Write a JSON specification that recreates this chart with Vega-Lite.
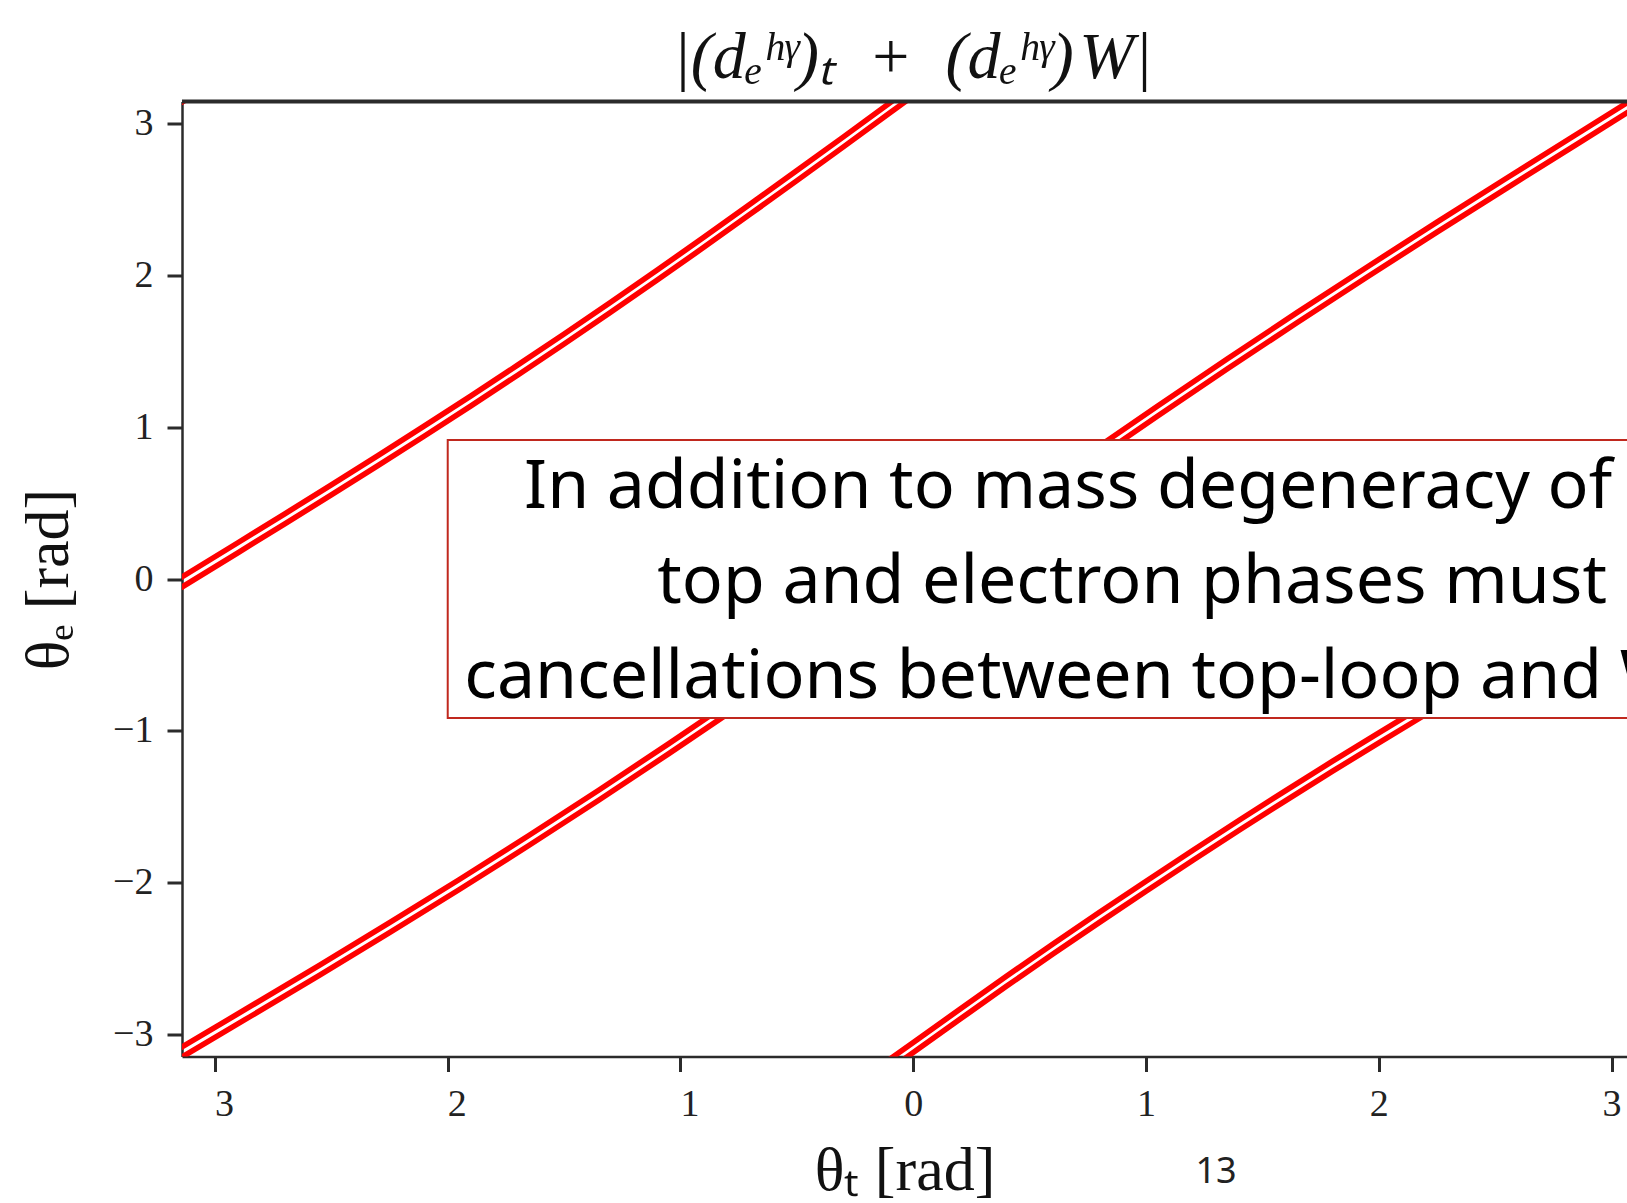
{
  "$schema": "https://vega.github.io/schema/vega-lite/v6.json",
  "autosize": {"type": "none"},
  "padding": {"left": 182, "top": 101.5, "right": 0, "bottom": 146.5},
  "width": 1445,
  "height": 955,
  "background": "white",
  "view": {"stroke": null},
  "title": {
    "text": "|(dₑʰᵞ)ₜ\u2002+\u2002(dₑʰᵞ)\u200aW|",
    "font": "Liberation Serif",
    "fontSize": 66,
    "fontStyle": "italic",
    "fontWeight": "normal",
    "color": "#111111",
    "anchor": "middle",
    "offset": 8,
    "dx": 8
  },
  "config": {
    "axis": {
      "grid": false,
      "domainColor": "#2b2b2b",
      "domainWidth": 2.5,
      "tickColor": "#2b2b2b",
      "tickWidth": 3,
      "tickSize": 15,
      "labelFont": "Liberation Serif",
      "labelFontSize": 38,
      "labelColor": "#222222",
      "titleFont": "Liberation Serif",
      "titleFontSize": 62,
      "titleFontWeight": "normal",
      "titleColor": "#111111"
    }
  },
  "datasets": {
    "contours": [
      {"series": "A_up", "theta_t": -3.3, "theta_e": -0.136},
      {"series": "A_up", "theta_t": -3.1416, "theta_e": 0.013},
      {"series": "A_up", "theta_t": -2.9, "theta_e": 0.240},
      {"series": "A_up", "theta_t": -2.7, "theta_e": 0.429},
      {"series": "A_up", "theta_t": -2.5, "theta_e": 0.619},
      {"series": "A_up", "theta_t": -2.3, "theta_e": 0.812},
      {"series": "A_up", "theta_t": -2.1, "theta_e": 1.007},
      {"series": "A_up", "theta_t": -1.9, "theta_e": 1.205},
      {"series": "A_up", "theta_t": -1.7, "theta_e": 1.407},
      {"series": "A_up", "theta_t": -1.5, "theta_e": 1.612},
      {"series": "A_up", "theta_t": -1.3, "theta_e": 1.821},
      {"series": "A_up", "theta_t": -1.1, "theta_e": 2.033},
      {"series": "A_up", "theta_t": -0.9, "theta_e": 2.248},
      {"series": "A_up", "theta_t": -0.7, "theta_e": 2.467},
      {"series": "A_up", "theta_t": -0.5, "theta_e": 2.687},
      {"series": "A_up", "theta_t": -0.3, "theta_e": 2.909},
      {"series": "A_up", "theta_t": -0.1, "theta_e": 3.133},
      {"series": "A_up", "theta_t": 0.05, "theta_e": 3.301},
      {"series": "A_lo", "theta_t": -3.3, "theta_e": -0.202},
      {"series": "A_lo", "theta_t": -3.1416, "theta_e": -0.053},
      {"series": "A_lo", "theta_t": -2.9, "theta_e": 0.174},
      {"series": "A_lo", "theta_t": -2.7, "theta_e": 0.363},
      {"series": "A_lo", "theta_t": -2.5, "theta_e": 0.553},
      {"series": "A_lo", "theta_t": -2.3, "theta_e": 0.746},
      {"series": "A_lo", "theta_t": -2.1, "theta_e": 0.941},
      {"series": "A_lo", "theta_t": -1.9, "theta_e": 1.139},
      {"series": "A_lo", "theta_t": -1.7, "theta_e": 1.341},
      {"series": "A_lo", "theta_t": -1.5, "theta_e": 1.546},
      {"series": "A_lo", "theta_t": -1.3, "theta_e": 1.755},
      {"series": "A_lo", "theta_t": -1.1, "theta_e": 1.967},
      {"series": "A_lo", "theta_t": -0.9, "theta_e": 2.182},
      {"series": "A_lo", "theta_t": -0.7, "theta_e": 2.401},
      {"series": "A_lo", "theta_t": -0.5, "theta_e": 2.621},
      {"series": "A_lo", "theta_t": -0.3, "theta_e": 2.843},
      {"series": "A_lo", "theta_t": -0.1, "theta_e": 3.067},
      {"series": "A_lo", "theta_t": 0.05, "theta_e": 3.235},
      {"series": "B_up", "theta_t": -3.3, "theta_e": -3.226},
      {"series": "B_up", "theta_t": -3.1416, "theta_e": -3.079},
      {"series": "B_up", "theta_t": -2.85, "theta_e": -2.814},
      {"series": "B_up", "theta_t": -2.55, "theta_e": -2.540},
      {"series": "B_up", "theta_t": -2.25, "theta_e": -2.261},
      {"series": "B_up", "theta_t": -1.95, "theta_e": -1.977},
      {"series": "B_up", "theta_t": -1.65, "theta_e": -1.686},
      {"series": "B_up", "theta_t": -1.35, "theta_e": -1.388},
      {"series": "B_up", "theta_t": -1.05, "theta_e": -1.083},
      {"series": "B_up", "theta_t": -0.75, "theta_e": -0.772},
      {"series": "B_up", "theta_t": -0.45, "theta_e": -0.457},
      {"series": "B_up", "theta_t": -0.15, "theta_e": -0.137},
      {"series": "B_up", "theta_t": 0.15, "theta_e": 0.184},
      {"series": "B_up", "theta_t": 0.45, "theta_e": 0.504},
      {"series": "B_up", "theta_t": 0.75, "theta_e": 0.823},
      {"series": "B_up", "theta_t": 1.05, "theta_e": 1.138},
      {"series": "B_up", "theta_t": 1.35, "theta_e": 1.449},
      {"series": "B_up", "theta_t": 1.65, "theta_e": 1.754},
      {"series": "B_up", "theta_t": 1.95, "theta_e": 2.053},
      {"series": "B_up", "theta_t": 2.25, "theta_e": 2.348},
      {"series": "B_up", "theta_t": 2.55, "theta_e": 2.638},
      {"series": "B_up", "theta_t": 2.85, "theta_e": 2.926},
      {"series": "B_up", "theta_t": 3.1416, "theta_e": 3.205},
      {"series": "B_up", "theta_t": 3.3, "theta_e": 3.356},
      {"series": "B_lo", "theta_t": -3.3, "theta_e": -3.292},
      {"series": "B_lo", "theta_t": -3.1416, "theta_e": -3.145},
      {"series": "B_lo", "theta_t": -2.85, "theta_e": -2.880},
      {"series": "B_lo", "theta_t": -2.55, "theta_e": -2.606},
      {"series": "B_lo", "theta_t": -2.25, "theta_e": -2.327},
      {"series": "B_lo", "theta_t": -1.95, "theta_e": -2.043},
      {"series": "B_lo", "theta_t": -1.65, "theta_e": -1.752},
      {"series": "B_lo", "theta_t": -1.35, "theta_e": -1.454},
      {"series": "B_lo", "theta_t": -1.05, "theta_e": -1.149},
      {"series": "B_lo", "theta_t": -0.75, "theta_e": -0.838},
      {"series": "B_lo", "theta_t": -0.45, "theta_e": -0.523},
      {"series": "B_lo", "theta_t": -0.15, "theta_e": -0.203},
      {"series": "B_lo", "theta_t": 0.15, "theta_e": 0.118},
      {"series": "B_lo", "theta_t": 0.45, "theta_e": 0.438},
      {"series": "B_lo", "theta_t": 0.75, "theta_e": 0.757},
      {"series": "B_lo", "theta_t": 1.05, "theta_e": 1.072},
      {"series": "B_lo", "theta_t": 1.35, "theta_e": 1.383},
      {"series": "B_lo", "theta_t": 1.65, "theta_e": 1.688},
      {"series": "B_lo", "theta_t": 1.95, "theta_e": 1.987},
      {"series": "B_lo", "theta_t": 2.25, "theta_e": 2.282},
      {"series": "B_lo", "theta_t": 2.55, "theta_e": 2.572},
      {"series": "B_lo", "theta_t": 2.85, "theta_e": 2.860},
      {"series": "B_lo", "theta_t": 3.1416, "theta_e": 3.139},
      {"series": "B_lo", "theta_t": 3.3, "theta_e": 3.290},
      {"series": "Bw_lo", "theta_t": -3.3, "theta_e": 2.991},
      {"series": "Bw_lo", "theta_t": -3.1416, "theta_e": 3.138},
      {"series": "Bw_lo", "theta_t": -3.0, "theta_e": 3.257},
      {"series": "D_up", "theta_t": -0.2, "theta_e": -3.267},
      {"series": "D_up", "theta_t": 0.0, "theta_e": -3.049},
      {"series": "D_up", "theta_t": 0.2, "theta_e": -2.831},
      {"series": "D_up", "theta_t": 0.4, "theta_e": -2.614},
      {"series": "D_up", "theta_t": 0.6, "theta_e": -2.401},
      {"series": "D_up", "theta_t": 0.8, "theta_e": -2.193},
      {"series": "D_up", "theta_t": 1.0, "theta_e": -1.988},
      {"series": "D_up", "theta_t": 1.2, "theta_e": -1.786},
      {"series": "D_up", "theta_t": 1.4, "theta_e": -1.587},
      {"series": "D_up", "theta_t": 1.6, "theta_e": -1.392},
      {"series": "D_up", "theta_t": 1.8, "theta_e": -1.200},
      {"series": "D_up", "theta_t": 2.0, "theta_e": -1.012},
      {"series": "D_up", "theta_t": 2.2, "theta_e": -0.827},
      {"series": "D_up", "theta_t": 2.4, "theta_e": -0.645},
      {"series": "D_up", "theta_t": 2.6, "theta_e": -0.466},
      {"series": "D_up", "theta_t": 2.8, "theta_e": -0.288},
      {"series": "D_up", "theta_t": 3.0, "theta_e": -0.112},
      {"series": "D_up", "theta_t": 3.1416, "theta_e": 0.013},
      {"series": "D_up", "theta_t": 3.3, "theta_e": 0.157},
      {"series": "D_lo", "theta_t": -0.2, "theta_e": -3.333},
      {"series": "D_lo", "theta_t": 0.0, "theta_e": -3.115},
      {"series": "D_lo", "theta_t": 0.2, "theta_e": -2.897},
      {"series": "D_lo", "theta_t": 0.4, "theta_e": -2.680},
      {"series": "D_lo", "theta_t": 0.6, "theta_e": -2.467},
      {"series": "D_lo", "theta_t": 0.8, "theta_e": -2.259},
      {"series": "D_lo", "theta_t": 1.0, "theta_e": -2.054},
      {"series": "D_lo", "theta_t": 1.2, "theta_e": -1.852},
      {"series": "D_lo", "theta_t": 1.4, "theta_e": -1.653},
      {"series": "D_lo", "theta_t": 1.6, "theta_e": -1.458},
      {"series": "D_lo", "theta_t": 1.8, "theta_e": -1.266},
      {"series": "D_lo", "theta_t": 2.0, "theta_e": -1.078},
      {"series": "D_lo", "theta_t": 2.2, "theta_e": -0.893},
      {"series": "D_lo", "theta_t": 2.4, "theta_e": -0.711},
      {"series": "D_lo", "theta_t": 2.6, "theta_e": -0.532},
      {"series": "D_lo", "theta_t": 2.8, "theta_e": -0.354},
      {"series": "D_lo", "theta_t": 3.0, "theta_e": -0.178},
      {"series": "D_lo", "theta_t": 3.1416, "theta_e": -0.053},
      {"series": "D_lo", "theta_t": 3.3, "theta_e": 0.091}
    ],
    "notes": [
      {"label": "In addition to mass degeneracy of", "theta_t": -1.672, "theta_e": 0.467},
      {"label": "top and electron phases must", "theta_t": -1.100, "theta_e": -0.158},
      {"label": "cancellations between top-loop and W", "theta_t": -1.929, "theta_e": -0.783}
    ],
    "page": [
      {"label": "13", "theta_t": 1.301, "theta_e": -3.974}
    ]
  },
  "layer": [
    {
      "data": {"name": "contours"},
      "mark": {"type": "line", "color": "#ff0000", "strokeWidth": 5.5, "strokeCap": "butt", "clip": true},
      "encoding": {
        "x": {
          "field": "theta_t", "type": "quantitative",
          "scale": {"domain": [-3.14159, 3.0663], "nice": false, "zero": false},
          "axis": {
            "title": "θₜ [rad]",
            "values": [-3, -2, -1, 0, 1, 2, 3],
            "format": "d",
            "labelExpr": "datum.value < 0 ? '' + abs(datum.value) : datum.label",
            "labelOffset": {"condition": {"test": "datum.value < 0", "value": 9}, "value": 0},
            "labelPadding": 14,
            "titlePadding": 17
          }
        },
        "y": {
          "field": "theta_e", "type": "quantitative",
          "scale": {"domain": [-3.14159, 3.14159], "nice": false, "zero": false},
          "axis": {
            "title": "θₑ [rad]",
            "values": [-3, -2, -1, 0, 1, 2, 3],
            "format": "d",
            "labelPadding": 14,
            "titlePadding": 32
          }
        },
        "detail": {"field": "series"},
        "order": {"field": "theta_t"}
      }
    },
    {
      "data": {"values": [{}]},
      "mark": {"type": "rect", "fill": "white", "stroke": "#c0281e", "strokeWidth": 2, "clip": true},
      "encoding": {
        "x": {"datum": -2.0, "type": "quantitative"},
        "x2": {"datum": 3.6},
        "y": {"datum": -0.915, "type": "quantitative"},
        "y2": {"datum": 0.915}
      }
    },
    {
      "data": {"values": [{}]},
      "mark": {"type": "rule", "color": "#2b2b2b", "strokeWidth": 4},
      "encoding": {
        "y": {"datum": 3.14159, "type": "quantitative"}
      }
    },
    {
      "data": {"name": "notes"},
      "mark": {"type": "text", "align": "left", "baseline": "alphabetic", "font": "Noto Sans", "fontSize": 68, "color": "#000000", "clip": true},
      "encoding": {
        "x": {"field": "theta_t", "type": "quantitative"},
        "y": {"field": "theta_e", "type": "quantitative"},
        "text": {"field": "label"}
      }
    },
    {
      "data": {"name": "page"},
      "mark": {"type": "text", "align": "center", "baseline": "alphabetic", "font": "Noto Sans", "fontSize": 36, "color": "#222222"},
      "encoding": {
        "x": {"field": "theta_t", "type": "quantitative"},
        "y": {"field": "theta_e", "type": "quantitative"},
        "text": {"field": "label"}
      }
    }
  ]
}
